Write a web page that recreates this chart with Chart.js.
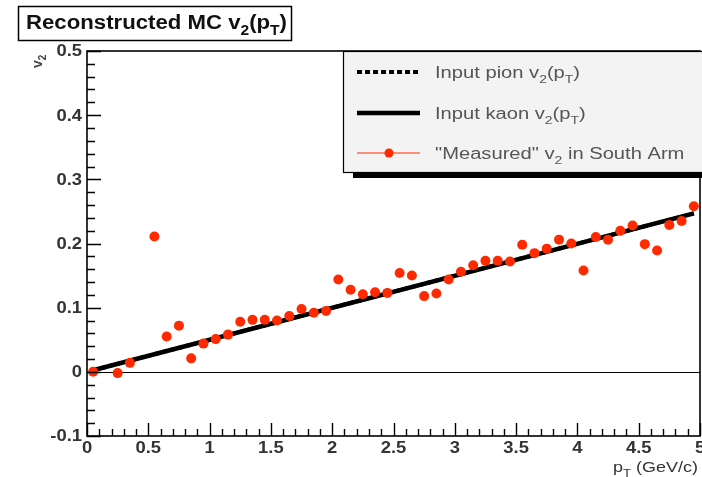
<!DOCTYPE html>
<html><head><meta charset="utf-8">
<script src="https://cdn.jsdelivr.net/npm/chart.js@4/dist/chart.umd.min.js"></script>
<style>html,body{margin:0;padding:0;background:#fff}#wrap{width:702px;height:477px}</style>
</head><body><div id="wrap"><canvas id="c" width="702" height="477"></canvas></div>
<script>
// ---- data ----
const pT = [0.05,0.25,0.35,0.55,0.65,0.75,0.85,0.95,1.05,1.15,1.25,1.35,1.45,1.55,1.65,1.75,1.85,1.95,2.05,2.15,2.25,2.35,2.45,2.55,2.65,2.75,2.85,2.95,3.05,3.15,3.25,3.35,3.45,3.55,3.65,3.75,3.85,3.95,4.05,4.15,4.25,4.35,4.45,4.55,4.65,4.75,4.85,4.95];
const measuredV2 = [0.000,-0.002,0.014,0.211,0.055,0.072,0.021,0.044,0.051,0.058,0.078,0.081,0.081,0.080,0.087,0.098,0.092,0.095,0.144,0.128,0.121,0.124,0.123,0.154,0.150,0.118,0.122,0.144,0.156,0.166,0.173,0.173,0.172,0.198,0.185,0.192,0.206,0.200,0.158,0.210,0.206,0.220,0.228,0.199,0.189,0.229,0.235,0.258];
const pionPt = [0.05, 4.95];
const pionV2 = [0.0025, 0.247];
const kaonPt = [0.05, 4.95];
const kaonV2 = [0.0025, 0.247];
const xTickLabels = ["0","0.5","1","1.5","2","2.5","3","3.5","4","4.5","5"];
const yTickLabels = ["-0.1","0","0.1","0.2","0.3","0.4","0.5"];
const titleParts = [["Reconstructed MC v",0],["2",1],["(p",0],["T",1],[")",0]];
const xTitleParts = [["p",0],["T",1],[" (GeV/c)",0]];
const yTitleParts = [["v",0],["2",1]];
const legendEntries = [
  {parts:[["Input pion v",0],["2",1],["(p",0],["T",1],[")",0]], kind:"dotted"},
  {parts:[["Input kaon v",0],["2",1],["(p",0],["T",1],[")",0]], kind:"solid"},
  {parts:[["\"Measured\" v",0],["2",1],[" in South Arm",0]], kind:"marker"}
];

const zip = (xs, ys) => xs.map((x,i)=>({x, y: ys[i]}));
const FONT = "'Liberation Sans', Arial, sans-serif";

function richWidth(ctx, parts, size, weight) {
  ctx.save();
  let w = 0;
  for (const [t, sub] of parts) {
    const s = sub ? Math.round(size*0.7) : size;
    ctx.font = weight + " " + s + "px " + FONT;
    w += ctx.measureText(t).width;
  }
  ctx.restore();
  return w;
}
// draws text segments (with subscripts), horizontally stretched by sx
function drawRich(ctx, parts, x, y, size, weight, color, sx) {
  sx = sx || 1;
  ctx.save();
  ctx.translate(x, y);
  ctx.scale(sx, 1);
  ctx.fillStyle = color;
  ctx.textBaseline = "alphabetic";
  ctx.textAlign = "left";
  let cx = 0;
  for (const [t, sub] of parts) {
    const s = sub ? Math.round(size*0.7) : size;
    ctx.font = weight + " " + s + "px " + FONT;
    ctx.fillText(t, cx, sub ? size*0.3 : 0);
    cx += ctx.measureText(t).width;
  }
  ctx.restore();
  return cx * sx;
}
function drawStretched(ctx, text, x, y, size, weight, color, sx, align, baseline) {
  ctx.save();
  ctx.font = weight + " " + size + "px " + FONT;
  const w = ctx.measureText(text).width * sx;
  let left = x;
  if (align === "center") left = x - w/2;
  if (align === "right") left = x - w;
  ctx.translate(left, y);
  ctx.scale(sx, 1);
  ctx.fillStyle = color;
  ctx.textAlign = "left";
  ctx.textBaseline = baseline;
  ctx.fillText(text, 0, 0);
  ctx.restore();
}

const framePlugin = {
  id: "frame",
  beforeDatasetsDraw(chart) {
    const {ctx, chartArea: a, scales: {y}} = chart;
    ctx.save();
    ctx.strokeStyle = "#000";
    ctx.lineWidth = 1.2;
    const y0 = Math.round(y.getPixelForValue(0)) + 0.5;
    ctx.beginPath(); ctx.moveTo(a.left, y0); ctx.lineTo(a.right, y0); ctx.stroke();
    ctx.restore();
  },
  afterDatasetsDraw(chart) {
    const {ctx, chartArea: a, scales: {x, y}} = chart;
    ctx.save();
    ctx.strokeStyle = "#000";
    ctx.lineWidth = 1.6;
    ctx.strokeRect(a.left, a.top, a.right - a.left, a.bottom - a.top);
    ctx.lineWidth = 1.4;
    ctx.beginPath();
    for (let i = 0; i <= 30; i++) {
      const v = -0.1 + i*0.02;
      const py = Math.round(y.getPixelForValue(v)) + 0.5;
      const len = (i % 5 === 0) ? 14 : 8;
      ctx.moveTo(a.left, py); ctx.lineTo(a.left + len, py);
    }
    for (let i = 0; i <= 50; i++) {
      const v = i*0.1;
      const px = Math.round(x.getPixelForValue(v)) + 0.5;
      const len = (i % 5 === 0) ? 13 : 7;
      ctx.moveTo(px, a.bottom); ctx.lineTo(px, a.bottom - len);
    }
    ctx.stroke();
    ctx.restore();

    // tick labels
    yTickLabels.forEach(l => {
      drawStretched(ctx, l, a.left - 5, y.getPixelForValue(parseFloat(l)) + 1, 16, "bold", "#333", 1.15, "right", "middle");
    });
    xTickLabels.forEach(l => {
      drawStretched(ctx, l, x.getPixelForValue(parseFloat(l)), 453, 16, "bold", "#333", 1.15, "center", "alphabetic");
    });

    // axis titles
    ctx.save();
    ctx.translate(42, 50);
    ctx.rotate(-Math.PI/2);
    drawRich(ctx, yTitleParts, -18, 0, 14, "bold", "#444", 1);
    ctx.restore();
    const xw = richWidth(ctx, xTitleParts, 15, "normal");
    drawRich(ctx, xTitleParts, 613, 472, 15, "normal", "#333", 85 / xw);

    // title box
    ctx.save();
    ctx.fillStyle = "#fff";
    ctx.fillRect(18, 6, 274, 35);
    ctx.strokeStyle = "#000"; ctx.lineWidth = 1.5;
    ctx.strokeRect(18.5, 6.5, 273, 34);
    ctx.restore();
    const tw = richWidth(ctx, titleParts, 20, "bold");
    drawRich(ctx, titleParts, 26, 29, 20, "bold", "#111", 261 / tw);

    // legend
    const L = {x: 343, y: 51, w: 362, h: 122};
    ctx.save();
    ctx.fillStyle = "#000";
    ctx.fillRect(L.x + 10, L.y + L.h, L.w, 5);
    ctx.fillStyle = "#f3f3f3";
    ctx.fillRect(L.x, L.y, L.w, L.h);
    ctx.strokeStyle = "#000"; ctx.lineWidth = 1.2;
    ctx.strokeRect(L.x + 0.5, L.y + 0.5, L.w - 1, L.h - 1);
    const rows = [72, 113, 153];
    const lsx = 145 / richWidth(ctx, legendEntries[0].parts, 16, "normal");
    legendEntries.forEach((e, i) => {
      const ry = rows[i];
      ctx.strokeStyle = e.kind === "marker" ? "#ff2a00" : "#000";
      ctx.lineWidth = e.kind === "dotted" ? 4 : (e.kind === "solid" ? 4.5 : 1.2);
      ctx.setLineDash(e.kind === "dotted" ? [5, 3] : []);
      ctx.beginPath(); ctx.moveTo(357, ry); ctx.lineTo(420, ry); ctx.stroke();
      ctx.setLineDash([]);
      if (e.kind === "marker") {
        ctx.fillStyle = "#ff2a00";
        ctx.beginPath(); ctx.arc(389, ry, 4.5, 0, Math.PI*2); ctx.fill();
      }
      drawRich(ctx, e.parts, 435, ry + 6, 16, "normal", "#555", lsx);
    });
    ctx.restore();
  }
};

new Chart(document.getElementById("c"), {
  type: "scatter",
  data: {
    datasets: [
      {label: "Input pion", data: zip(pionPt, pionV2), showLine: true, borderColor: "#000", borderWidth: 4, borderDash: [5,3], pointRadius: 0, order: 3},
      {label: "Input kaon", data: zip(kaonPt, kaonV2), showLine: true, borderColor: "#000", borderWidth: 4.5, pointRadius: 0, order: 2},
      {label: "Measured", data: zip(pT, measuredV2), showLine: false, backgroundColor: "#ff2a00", borderColor: "#ff2a00", pointRadius: 5, pointBorderWidth: 0, order: 1}
    ]
  },
  options: {
    responsive: false,
    animation: false,
    events: [],
    layout: {autoPadding: false, padding: {top: 51, right: 2, left: 0, bottom: 0}},
    plugins: {legend: {display: false}, tooltip: {enabled: false}, title: {display: false}},
    scales: {
      x: {
        type: "linear", min: 0, max: 5,
        afterFit(s) { s.height = 41; s.paddingLeft = 0; s.paddingRight = 0; },
        grid: {display: false, drawTicks: false},
        border: {display: false},
        ticks: {display: false, stepSize: 0.5}
      },
      y: {
        type: "linear", min: -0.1, max: 0.5,
        afterFit(s) { s.width = 87; s.paddingTop = 0; s.paddingBottom = 0; },
        grid: {display: false, drawTicks: false},
        border: {display: false},
        ticks: {display: false, stepSize: 0.1}
      }
    }
  },
  plugins: [framePlugin]
});
</script>
</body></html>
